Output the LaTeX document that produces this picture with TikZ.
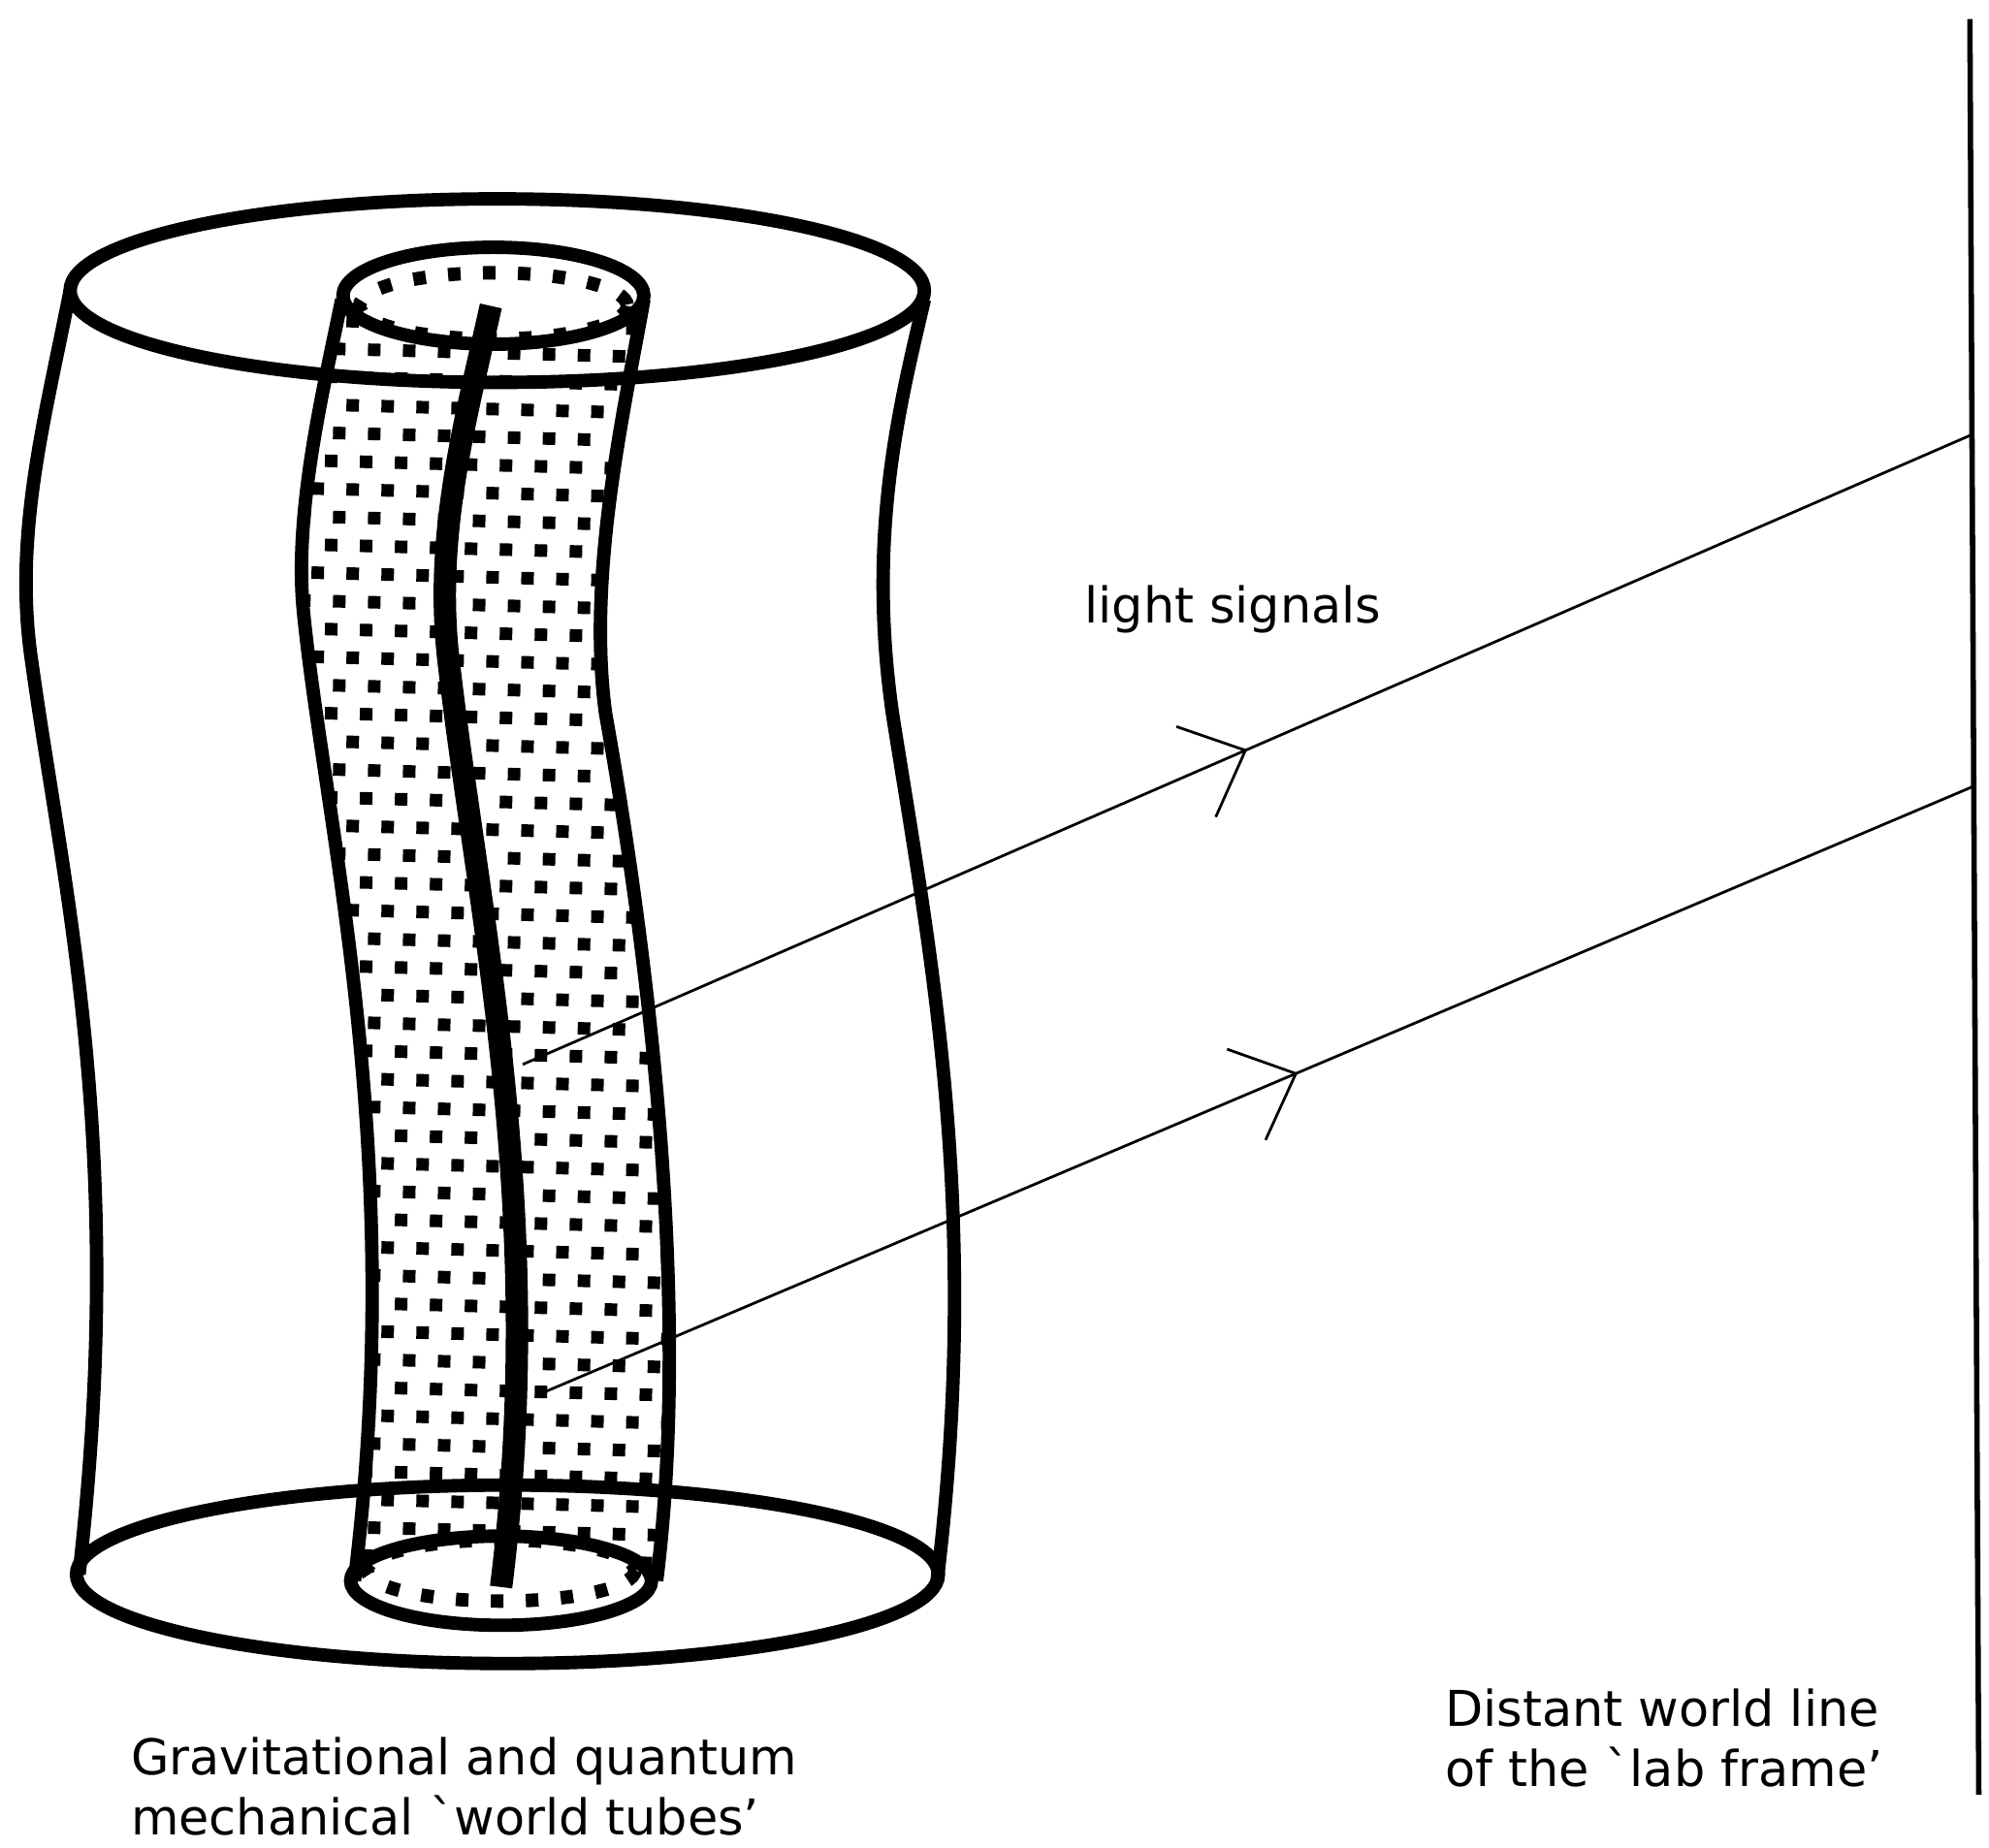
\documentclass[tikz,border=0pt]{standalone}
\usepackage{fontspec}
\setmainfont{DejaVu Sans}
\usetikzlibrary{calc,arrows.meta,decorations.markings}

\tikzset{
  tube/.style={line width=3pt},
  wline/.style={line width=5pt},
  ray/.style={line width=0.6pt,
    decoration={markings,mark=at position #1 with {\arrow{Straight Barb[length=12pt,width=22pt,line width=0.6pt]}}},
    postaction={decorate}},
  dotrow/.style={line width=2.8pt,dash pattern=on 2.8pt off 5pt},
  label/.style={font=\fontsize{11}{13.5}\selectfont,align=left,inner sep=0pt}
}

\begin{document}
\begin{tikzpicture}[x=0.01cm,y=-0.01cm]
  \useasboundingbox (0,0) rectangle (1560,1449);

  % outer world tube
  \draw[tube] (390,228) ellipse [x radius=335,y radius=72];
  \draw[tube] (398,1235) ellipse [x radius=338,y radius=70];
  \draw[tube] (55,228) .. controls (35,330) and (10,420) .. (25,520)
    .. controls (50,700) and (100,900) .. (62,1235);
  \draw[tube] (725,235) .. controls (705,320) and (680,420) .. (700,560)
    .. controls (730,750) and (770,950) .. (735,1240);

  % inner tube, dotted filling
  \begin{scope}
    \clip (268,235) .. controls (255,300) and (230,400) .. (238,480)
      .. controls (255,650) and (320,900) .. (278,1240)
      -- (515,1240) .. controls (545,1000) and (500,700) .. (475,560)
      .. controls (460,450) and (490,320) .. (505,235) -- cycle;
    \foreach \y [count=\i] in {250,272,...,1240}
      \draw[dotrow,dash phase={mod(\i,3)*3pt}] (200,\y) -- (580,\y+10);
  \end{scope}
  \fill[white] (387,232) ellipse [x radius=116,y radius=36];
  \draw[dotrow,line width=3pt] (387,240) ellipse [x radius=105,y radius=26];
  \draw[tube] (387,232) ellipse [x radius=118,y radius=38];
  \fill[white] (393,1240) ellipse [x radius=116,y radius=33];
  \draw[dotrow,line width=3pt] (393,1232) ellipse [x radius=105,y radius=24];
  \draw[tube] (393,1240) ellipse [x radius=118,y radius=35];
  \draw[tube] (268,235) .. controls (255,300) and (230,400) .. (238,480)
    .. controls (255,650) and (320,900) .. (278,1240);
  \draw[tube] (505,235) .. controls (490,320) and (460,450) .. (475,560)
    .. controls (500,700) and (545,1000) .. (515,1240);

  % world line of the body
  \draw[wline] (385,240) .. controls (365,330) and (340,420) .. (352,520)
    .. controls (375,720) and (430,950) .. (393,1245);

  % light signals and lab frame
  \coordinate (e1) at (410,835);
  \coordinate (e2) at (420,1095);
  \coordinate (lt) at (1545,15);
  \coordinate (lb) at (1552,1408);
  \coordinate (r1) at ($(lt)!0.234!(lb)$);
  \coordinate (r2) at ($(lt)!0.432!(lb)$);
  \draw[line width=1.2pt] (lt) -- (lb);
  \draw[ray=0.5] (e1) -- (r1);
  \draw[ray=0.53] (e2) -- (r2);

  \node[label,anchor=west] (sig) at (850,478) {light signals};
  \node[label,anchor=north west] (tubes) at (102,1362)
    {Gravitational and quantum\\mechanical \textasciigrave world tubes'};
  \node[label,anchor=north west] (lab) at (1133,1324)
    {Distant world line\\of the \textasciigrave lab frame'};
\end{tikzpicture}
\end{document}
